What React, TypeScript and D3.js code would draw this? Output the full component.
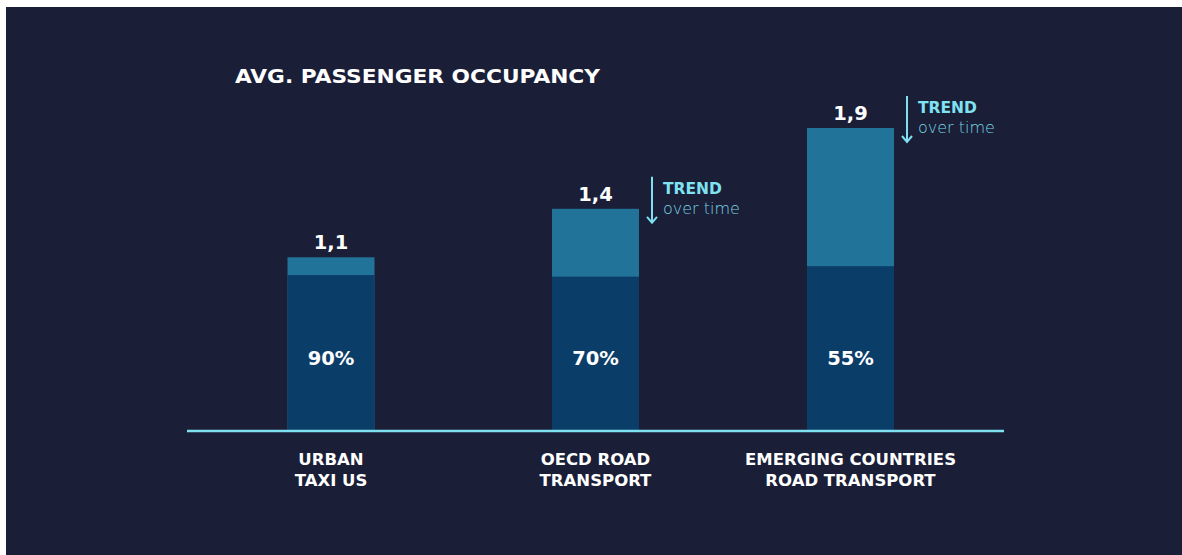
import React from "react";
import * as d3 from "d3";

const categories = [["URBAN", "TAXI US"], ["OECD ROAD", "TRANSPORT"], ["EMERGING COUNTRIES", "ROAD TRANSPORT"]];
const occupancy = [1.1, 1.4, 1.9];
const occupancyLabels = ["1,1", "1,4", "1,9"];
const utilization = [0.9, 0.7, 0.55];
const utilizationLabels = ["90%", "70%", "55%"];
const showTrend = [false, true, true];

const W = 1182;
const H = 555;
const FONT = "'DejaVu Sans', 'Open Sans', sans-serif";

export default function App() {
  const baseY = 431;
  const centers = [331, 595.5, 850.5];
  const barW = 87;
  const y = d3.scaleLinear().domain([0, 1.9]).range([435, 128]);

  return (
    <div style={{ position: "absolute", left: 0, top: 0 }}>
      <svg width={W} height={H} style={{ display: "block" }}>
        <rect x={0} y={0} width={W} height={H} fill="#ffffff" />
        <rect x={6} y={7} width={W - 6} height={H - 7} fill="#1a1e37" />
        <text x={235} y={83} fill="#ffffff" fontFamily={FONT} fontWeight={700} fontSize={19.5} textLength={365} lengthAdjust="spacingAndGlyphs">
          AVG. PASSENGER OCCUPANCY
        </text>
        {occupancy.map((v, i) => {
          const cx = centers[i];
          const top = y(v);
          const darkTop = y(v * utilization[i]);
          return (
            <g key={i}>
              <rect x={cx - barW / 2} y={top} width={barW} height={baseY - top} fill="#217399" />
              <rect x={cx - barW / 2} y={darkTop} width={barW} height={baseY - darkTop} fill="#0b3d69" />
              <text x={cx} y={top - 8} textAnchor="middle" fill="#ffffff" fontFamily={FONT} fontWeight={700} fontSize={19.5}>
                {occupancyLabels[i]}
              </text>
              <text x={cx} y={365} textAnchor="middle" fill="#ffffff" fontFamily={FONT} fontWeight={700} fontSize={19.5}>
                {utilizationLabels[i]}
              </text>
              {categories[i].map((line, j) => (
                <text key={j} x={cx} y={465 + j * 21} textAnchor="middle" fill="#ffffff" fontFamily={FONT} fontWeight={700} fontSize={16.5}>
                  {line}
                </text>
              ))}
              {showTrend[i] && (
                <g transform={`translate(${cx + barW / 2 + 13},${top - 32})`}>
                  <line x1={0} y1={0} x2={0} y2={46} stroke="#7fe0f0" strokeWidth={2} />
                  <path d="M-5,40 L0,46 L5,40" fill="none" stroke="#7fe0f0" strokeWidth={2} />
                  <text x={11} y={17} fill="#7fe3f2" fontFamily={FONT} fontWeight={700} fontSize={15.5}>
                    TREND
                  </text>
                  <text x={11} y={37} fill="#79d6e6" fontFamily={FONT} fontWeight={200} fontSize={16}>
                    over time
                  </text>
                </g>
              )}
            </g>
          );
        })}
        <line x1={187} x2={1004} y1={baseY} y2={baseY} stroke="#7fe0f0" strokeWidth={2.5} />
      </svg>
    </div>
  );
}
